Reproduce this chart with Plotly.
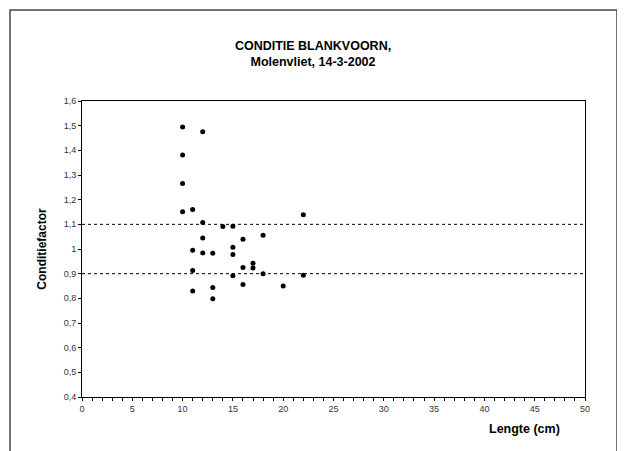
import plotly.graph_objects as go

lengte = [10, 12, 10, 10, 10, 11, 22, 12, 14, 15, 18, 12, 16, 15, 11,
          12, 13, 15, 17, 17, 16, 11, 18, 15, 22, 16, 20, 13, 11, 13]
conditie = [1.495, 1.475, 1.381, 1.266, 1.151, 1.160, 1.139, 1.107, 1.091, 1.092,
            1.056, 1.045, 1.040, 1.007, 0.995, 0.984, 0.983, 0.978, 0.942, 0.923,
            0.925, 0.913, 0.900, 0.892, 0.894, 0.856, 0.850, 0.844, 0.830, 0.798]
grens_laag = 0.9
grens_hoog = 1.1
x_range = [0, 50]
y_range = [0.4, 1.6]

FONT = "Liberation Sans, Arial, sans-serif"

fig = go.Figure()
for g in (grens_hoog, grens_laag):
    fig.add_trace(go.Scatter(x=x_range, y=[g, g], mode="lines",
                             line=dict(color="black", width=1, dash="dot"),
                             hoverinfo="skip", showlegend=False))
fig.add_trace(go.Scatter(x=lengte, y=conditie, mode="markers",
                         marker=dict(color="black", size=5),
                         showlegend=False))

OFF = 8  # page body margin
W, H = 625, 451
L, T = 82 - OFF, 101 - OFF
pw, ph = 503, 296
R, B = W - L - pw, H - T - ph

fig.update_layout(
    width=W, height=H,
    margin=dict(l=L, r=R, t=T, b=B),
    paper_bgcolor="white", plot_bgcolor="white",
    font=dict(family=FONT, color="black"),
    title=dict(text="<b>CONDITIE BLANKVOORN,<br>Molenvliet, 14-3-2002</b>",
               x=(313 - OFF - L) / pw, xref="paper", xanchor="center",
               y=1 - (50 - OFF) / H, yanchor="middle",
               font=dict(size=12.5, family=FONT, color="black")),
    xaxis=dict(range=x_range, tickmode="linear", tick0=0, dtick=5,
               ticks="outside", ticklen=3, tickcolor="black",
               minor=dict(dtick=1, ticks="outside", ticklen=3, tickcolor="black"),
               showgrid=False, zeroline=False, showline=True, linecolor="black",
               linewidth=1, mirror=True,
               tickfont=dict(size=9, family=FONT, color="#333")),
    yaxis=dict(range=y_range, tickmode="linear", tick0=0.4, dtick=0.1,
               ticks="outside", ticklen=3, tickcolor="black",
               showgrid=False, zeroline=False, showline=True, linecolor="black",
               linewidth=1, mirror=True,
               tickfont=dict(size=9, family=FONT, color="#333"),
               title=dict(text="<b>Conditiefactor</b>", standoff=14,
                          font=dict(size=12, family=FONT, color="black"))),
    separators=",.",
)

fig.add_annotation(text="<b>Lengte (cm)</b>", xref="paper", yref="paper",
                   x=(524 - OFF - L) / pw, y=-(429 - 397) / ph,
                   xanchor="center", yanchor="middle", showarrow=False,
                   font=dict(size=12.5, family=FONT, color="black"))

fig.add_shape(type="rect", xref="paper", yref="paper",
              x0=(10 - 82) / pw, x1=(617 - 82) / pw,
              y0=-0.5, y1=(397 - 10) / ph,
              line=dict(color="#444", width=1.5), layer="below")

fig.write_html("out.html")
